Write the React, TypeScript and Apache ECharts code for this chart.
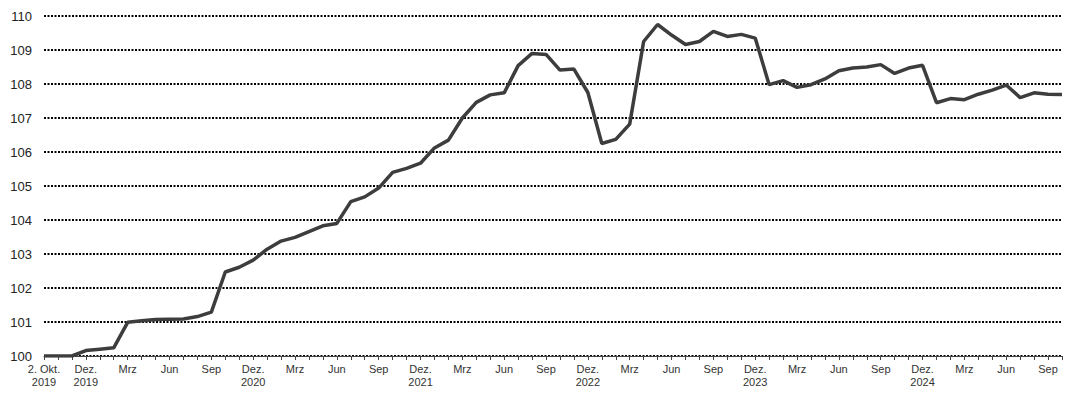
import React, { useEffect, useRef } from "react";
import * as echarts from "echarts";

// Monthly points: first point is 2 Oct 2019, then month ends Oct 2019 .. Oct 2025
const categories: string[] = (() => {
  const out: string[] = ["2019-10-02"];
  let y = 2019;
  let m = 10;
  for (let i = 1; i < 74; i++) {
    out.push(`${y}-${String(m).padStart(2, "0")}`);
    m++;
    if (m > 12) {
      m = 1;
      y++;
    }
  }
  return out;
})();

const values: number[] = [
  100.0, 100.0, 100.0, 100.16, 100.2, 100.24, 100.99, 101.04, 101.07, 101.08,
  101.09, 101.16, 101.29, 102.47, 102.61, 102.82, 103.14, 103.38, 103.49, 103.66,
  103.83, 103.9, 104.54, 104.68, 104.94, 105.4, 105.52, 105.67, 106.12, 106.35,
  107.0, 107.46, 107.68, 107.74, 108.54, 108.9, 108.87, 108.41, 108.44, 107.75,
  106.25, 106.37, 106.82, 109.25, 109.75, 109.44, 109.16, 109.25, 109.55, 109.4,
  109.46, 109.35, 107.98, 108.1, 107.9, 107.98, 108.15, 108.39, 108.47, 108.5,
  108.57, 108.31, 108.47, 108.55, 107.45, 107.57, 107.54, 107.7, 107.82, 107.97,
  107.6, 107.74, 107.7, 107.69,
];

// Labels shown at index 0 and every third index from 3 on
const tickLabels: string[] = [
  "2. Okt.\n2019", "Dez.\n2019", "Mrz", "Jun", "Sep",
  "Dez.\n2020", "Mrz", "Jun", "Sep",
  "Dez.\n2021", "Mrz", "Jun", "Sep",
  "Dez.\n2022", "Mrz", "Jun", "Sep",
  "Dez.\n2023", "Mrz", "Jun", "Sep",
  "Dez.\n2024", "Mrz", "Jun", "Sep",
];

export default function App() {
  const ref = useRef<HTMLDivElement>(null);
  useEffect(() => {
    if (!ref.current) return;
    const chart = echarts.init(ref.current, undefined, { renderer: "svg" });
    chart.setOption({
      animation: false,
      backgroundColor: "#ffffff",
      textStyle: { fontFamily: "Liberation Sans, Arial, sans-serif" },
      grid: { left: 44, right: 14, top: 16, bottom: 43, containLabel: false },
      xAxis: {
        type: "category",
        data: categories,
        boundaryGap: false,
        axisLine: { show: true, lineStyle: { color: "#444", width: 1 } },
        axisTick: {
          show: true,
          interval: 0,
          length: 4,
          lineStyle: { color: "#444", width: 1 },
        },
        axisLabel: {
          interval: (i: number) => i % 3 === 0,
          formatter: (_v: string, i: number) =>
            i % 3 === 0 ? tickLabels[i / 3] ?? "" : "",
          color: "#333",
          fontSize: 11,
          lineHeight: 13,
          margin: 6,
          fontFamily: "Liberation Sans, Arial, sans-serif",
        },
        splitLine: { show: false },
      },
      yAxis: {
        type: "value",
        min: 100,
        max: 110,
        interval: 1,
        axisLine: { show: false },
        axisTick: { show: false },
        axisLabel: {
          color: "#222",
          fontSize: 13,
          margin: 12,
          fontFamily: "Liberation Sans, Arial, sans-serif",
        },
        splitLine: {
          show: true,
          lineStyle: { color: "#000", width: 2, type: [2, 1.5] },
        },
      },
      series: [
        {
          type: "line",
          data: values,
          symbol: "none",
          lineStyle: { color: "#3d3d3d", width: 3.5 },
          z: 5,
        },
      ],
    });
    return () => chart.dispose();
  }, []);
  return (
    <div
      ref={ref}
      style={{ position: "absolute", left: 0, top: 0, width: 1076, height: 399 }}
    />
  );
}
